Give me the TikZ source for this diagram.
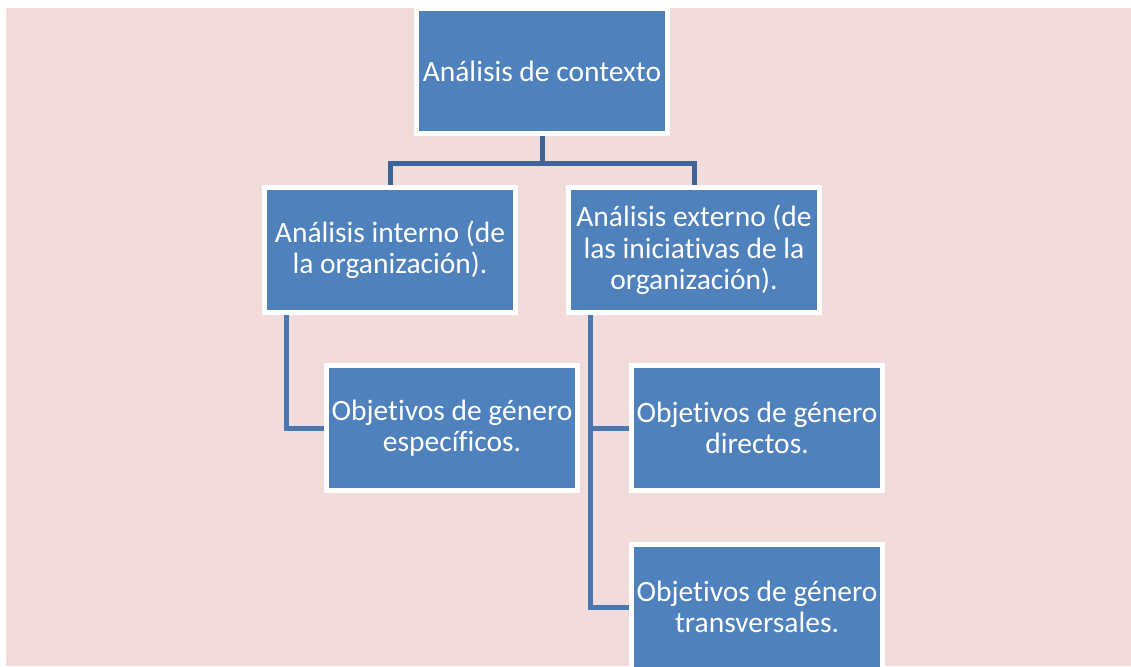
\documentclass[tikz,border=0pt]{standalone}
\usepackage{fontspec}
\setmainfont{Carlito}[Ligatures=NoCommon]
\usetikzlibrary{backgrounds,calc}
\definecolor{bgpink}{HTML}{F2DCDB}
\definecolor{boxblue}{HTML}{4F81BD}
\definecolor{linedark}{HTML}{3E6596}
\definecolor{linemid}{HTML}{4A77B0}
\tikzset{
  orgbox/.style={rectangle, fill=boxblue, draw=white, line width=5pt,
    minimum width=251pt, minimum height=125pt, inner sep=0pt,
    text=white, align=center, font=\fontsize{29.5}{31.5}\selectfont},
  toplink/.style={draw=linedark, line width=5pt},
  sidelink/.style={draw=linemid, line width=5pt}
}
\begin{document}
\begin{tikzpicture}[x=1pt,y=1pt]
\useasboundingbox (0,0) rectangle (1131,-666);
\node[orgbox] (top) at (542,-71) {Análisis de contexto};
\node[orgbox] (l2l) at (390,-250) {Análisis interno (de\\la organización).};
\node[orgbox] (l2r) at (694,-250) {Análisis externo (de\\las iniciativas de la\\organización).};
\node[orgbox] (spec) at (452,-428) {Objetivos de género\\específicos.};
\node[orgbox] (dir) at (757,-428) {Objetivos de género\\directos.};
\node[orgbox] (trans) at (757,-607) {Objetivos de género\\transversales.};
\begin{scope}[on background layer]
  \fill[bgpink] (6,-8) rectangle (1131,-666);
  \coordinate (hub) at ($(top.south)+(0,-27.5)$);
  \draw[toplink] (top.south) -- (hub) -| (l2l.north);
  \draw[toplink] (hub) -| (l2r.north);
  \coordinate (lstem) at ($(l2l.south west)+(24.5,0)$);
  \draw[sidelink] (lstem) |- (spec.west);
  \coordinate (rstem) at ($(l2r.south west)+(24.5,0)$);
  \draw[sidelink] (rstem) |- (dir.west);
  \draw[sidelink] (rstem) |- (trans.west);
\end{scope}
\end{tikzpicture}
\end{document}
